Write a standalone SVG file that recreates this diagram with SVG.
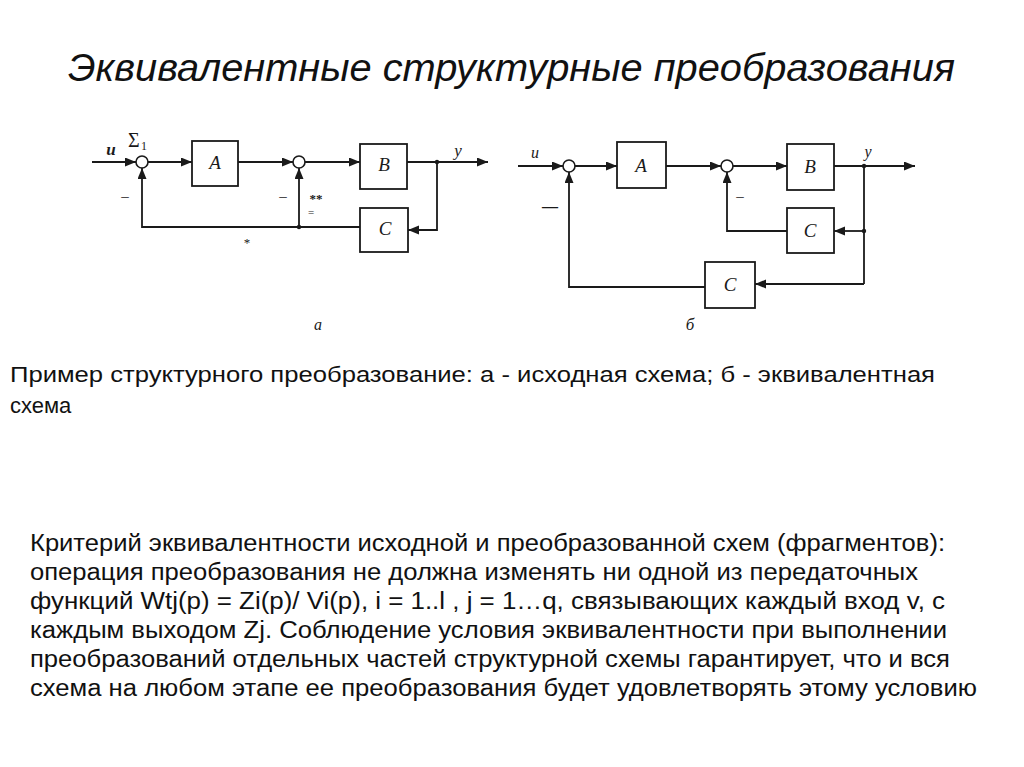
<svg xmlns="http://www.w3.org/2000/svg" width="1024" height="767" viewBox="0 0 1024 767">
<defs>
<marker id="arr" markerUnits="userSpaceOnUse" markerWidth="12" markerHeight="10" refX="11" refY="4.5" orient="auto">
<path d="M0,0 L11,4.5 L0,9 z" fill="#1a1a1a"/>
</marker>
<style>
.ln{fill:none;stroke:#1a1a1a;stroke-width:1.8}
.ar{fill:none;stroke:#1a1a1a;stroke-width:1.8;marker-end:url(#arr)}
.box{fill:#fff;stroke:#1a1a1a;stroke-width:1.8}
.sum{fill:#fff;stroke:#1a1a1a;stroke-width:1.6}
.dot{fill:#1a1a1a}
.lbl{font-family:"Liberation Serif",serif;font-style:italic;font-size:19px;fill:#1a1a1a;text-anchor:middle}
.sm{font-family:"Liberation Serif",serif;font-size:15px;fill:#1a1a1a;text-anchor:middle}
.title{font-family:"Liberation Sans",Arial,sans-serif;font-style:italic;font-size:38px;fill:#111}
.body{font-family:"Liberation Sans",Arial,sans-serif;font-size:23px;fill:#111}
</style>
</defs>
<rect width="1024" height="767" fill="#fff"/>

<text class="title" x="68" y="81" textLength="887" lengthAdjust="spacingAndGlyphs">Эквивалентные структурные преобразования</text>

<!-- Diagram a -->
<g id="connectors-a">
<path class="ar" d="M92,162 L136,162"/>
<path class="ar" d="M148,162 L192,162"/>
<path class="ar" d="M238,162 L293,162"/>
<path class="ar" d="M305,162 L360,162"/>
<path class="ar" d="M407,162 L488,162"/>
<path class="ar" d="M437,162 L437,230 L408,230"/>
<path class="ar" d="M360,227 L142,227 L142,168"/>
<path class="ar" d="M299,227 L299,168"/>
<circle class="dot" cx="299" cy="227" r="2.2"/>
<circle class="dot" cx="437" cy="162" r="2.2"/>
</g>
<g id="a-sum1"><circle class="sum" cx="142" cy="162" r="6"/>
<text x="128" y="147" style="font-family:'Liberation Serif',serif;font-size:20px;fill:#1a1a1a">Σ</text>
<text x="141" y="150" style="font-family:'Liberation Serif',serif;font-size:12px;fill:#1a1a1a">1</text></g>
<g id="a-sum2"><circle class="sum" cx="299" cy="162" r="6"/></g>
<g id="a-A"><rect class="box" x="192" y="141" width="46" height="45"/><text class="lbl" x="215" y="169">A</text></g>
<g id="a-B"><rect class="box" x="360" y="144" width="47" height="45"/><text class="lbl" x="384" y="171">B</text></g>
<g id="a-C"><rect class="box" x="360" y="208" width="48" height="44"/><text class="lbl" x="385" y="235">C</text></g>
<g id="a-labels">
<text class="lbl" x="111" y="155" style="font-size:17px;font-weight:bold">u</text>
<text class="lbl" x="458" y="156" style="font-size:17px">y</text>
<text class="sm" x="125" y="201">–</text>
<text class="sm" x="283" y="201">–</text>
<text class="sm" x="316" y="203" style="font-size:13px;font-weight:bold">**</text>
<text class="sm" x="311" y="216" style="font-size:11px">=</text>
<text class="sm" x="247" y="247" style="font-size:13px">*</text>
<text class="lbl" x="318" y="330" style="font-size:16px">a</text>
</g>

<!-- Diagram б -->
<g id="connectors-b">
<path class="ar" d="M518,166 L563,166"/>
<path class="ar" d="M575,166 L617,166"/>
<path class="ar" d="M666,166 L721,166"/>
<path class="ar" d="M733,166 L787,166"/>
<path class="ar" d="M834,166 L915,166"/>
<path class="ln" d="M864,166 L864,284"/>
<path class="ar" d="M864,231 L834,231"/>
<path class="ar" d="M787,231 L727,231 L727,172"/>
<path class="ar" d="M864,284 L755,284"/>
<path class="ar" d="M705,287 L569,287 L569,172"/>
<circle class="dot" cx="864" cy="166" r="2.2"/>
<circle class="dot" cx="864" cy="231" r="2.2"/>
</g>
<g id="b-sum1"><circle class="sum" cx="569" cy="166" r="6"/></g>
<g id="b-sum2"><circle class="sum" cx="727" cy="166" r="6"/></g>
<g id="b-A"><rect class="box" x="617" y="142" width="49" height="46"/><text class="lbl" x="641" y="172">A</text></g>
<g id="b-B"><rect class="box" x="787" y="144" width="47" height="46"/><text class="lbl" x="810" y="173">B</text></g>
<g id="b-C1"><rect class="box" x="787" y="208" width="47" height="45"/><text class="lbl" x="810" y="237">C</text></g>
<g id="b-C2"><rect class="box" x="705" y="262" width="50" height="46"/><text class="lbl" x="730" y="291">C</text></g>
<g id="b-labels">
<text class="lbl" x="535" y="158" style="font-size:16px">u</text>
<text class="lbl" x="868" y="157" style="font-size:16px">y</text>
<text class="sm" x="740" y="201">–</text>
<text class="sm" x="550" y="212" style="font-weight:bold;font-size:16px">—</text>
<text class="lbl" x="690" y="330" style="font-size:17px">б</text>
</g>

<!-- Caption -->
<g id="caption">
<text class="body" x="10" y="382" style="font-size:22px" textLength="925" lengthAdjust="spacingAndGlyphs">Пример структурного преобразование: а - исходная схема; б - эквивалентная</text>
<text class="body" x="10" y="413" style="font-size:22px">схема</text>
</g>

<!-- Body text -->
<g id="body">
<text class="body" x="30" y="551" textLength="915" lengthAdjust="spacingAndGlyphs">Критерий эквивалентности исходной и преобразованной схем (фрагментов):</text>
<text class="body" x="30" y="580" textLength="888" lengthAdjust="spacingAndGlyphs">операция преобразования не должна изменять ни одной из передаточных</text>
<text class="body" x="30" y="609" textLength="915" lengthAdjust="spacingAndGlyphs">функций Wtj(p) = Zi(p)/ Vi(p), i = 1..l  , j = 1…q, связывающих каждый вход v, с</text>
<text class="body" x="30" y="638" textLength="917" lengthAdjust="spacingAndGlyphs">каждым выходом Zj. Соблюдение условия эквивалентности при выполнении</text>
<text class="body" x="30" y="667" textLength="920" lengthAdjust="spacingAndGlyphs">преобразований отдельных частей структурной схемы гарантирует, что и вся</text>
<text class="body" x="30" y="696" textLength="947" lengthAdjust="spacingAndGlyphs">схема на любом этапе ее преобразования будет удовлетворять этому условию</text>
</g>
</svg>
